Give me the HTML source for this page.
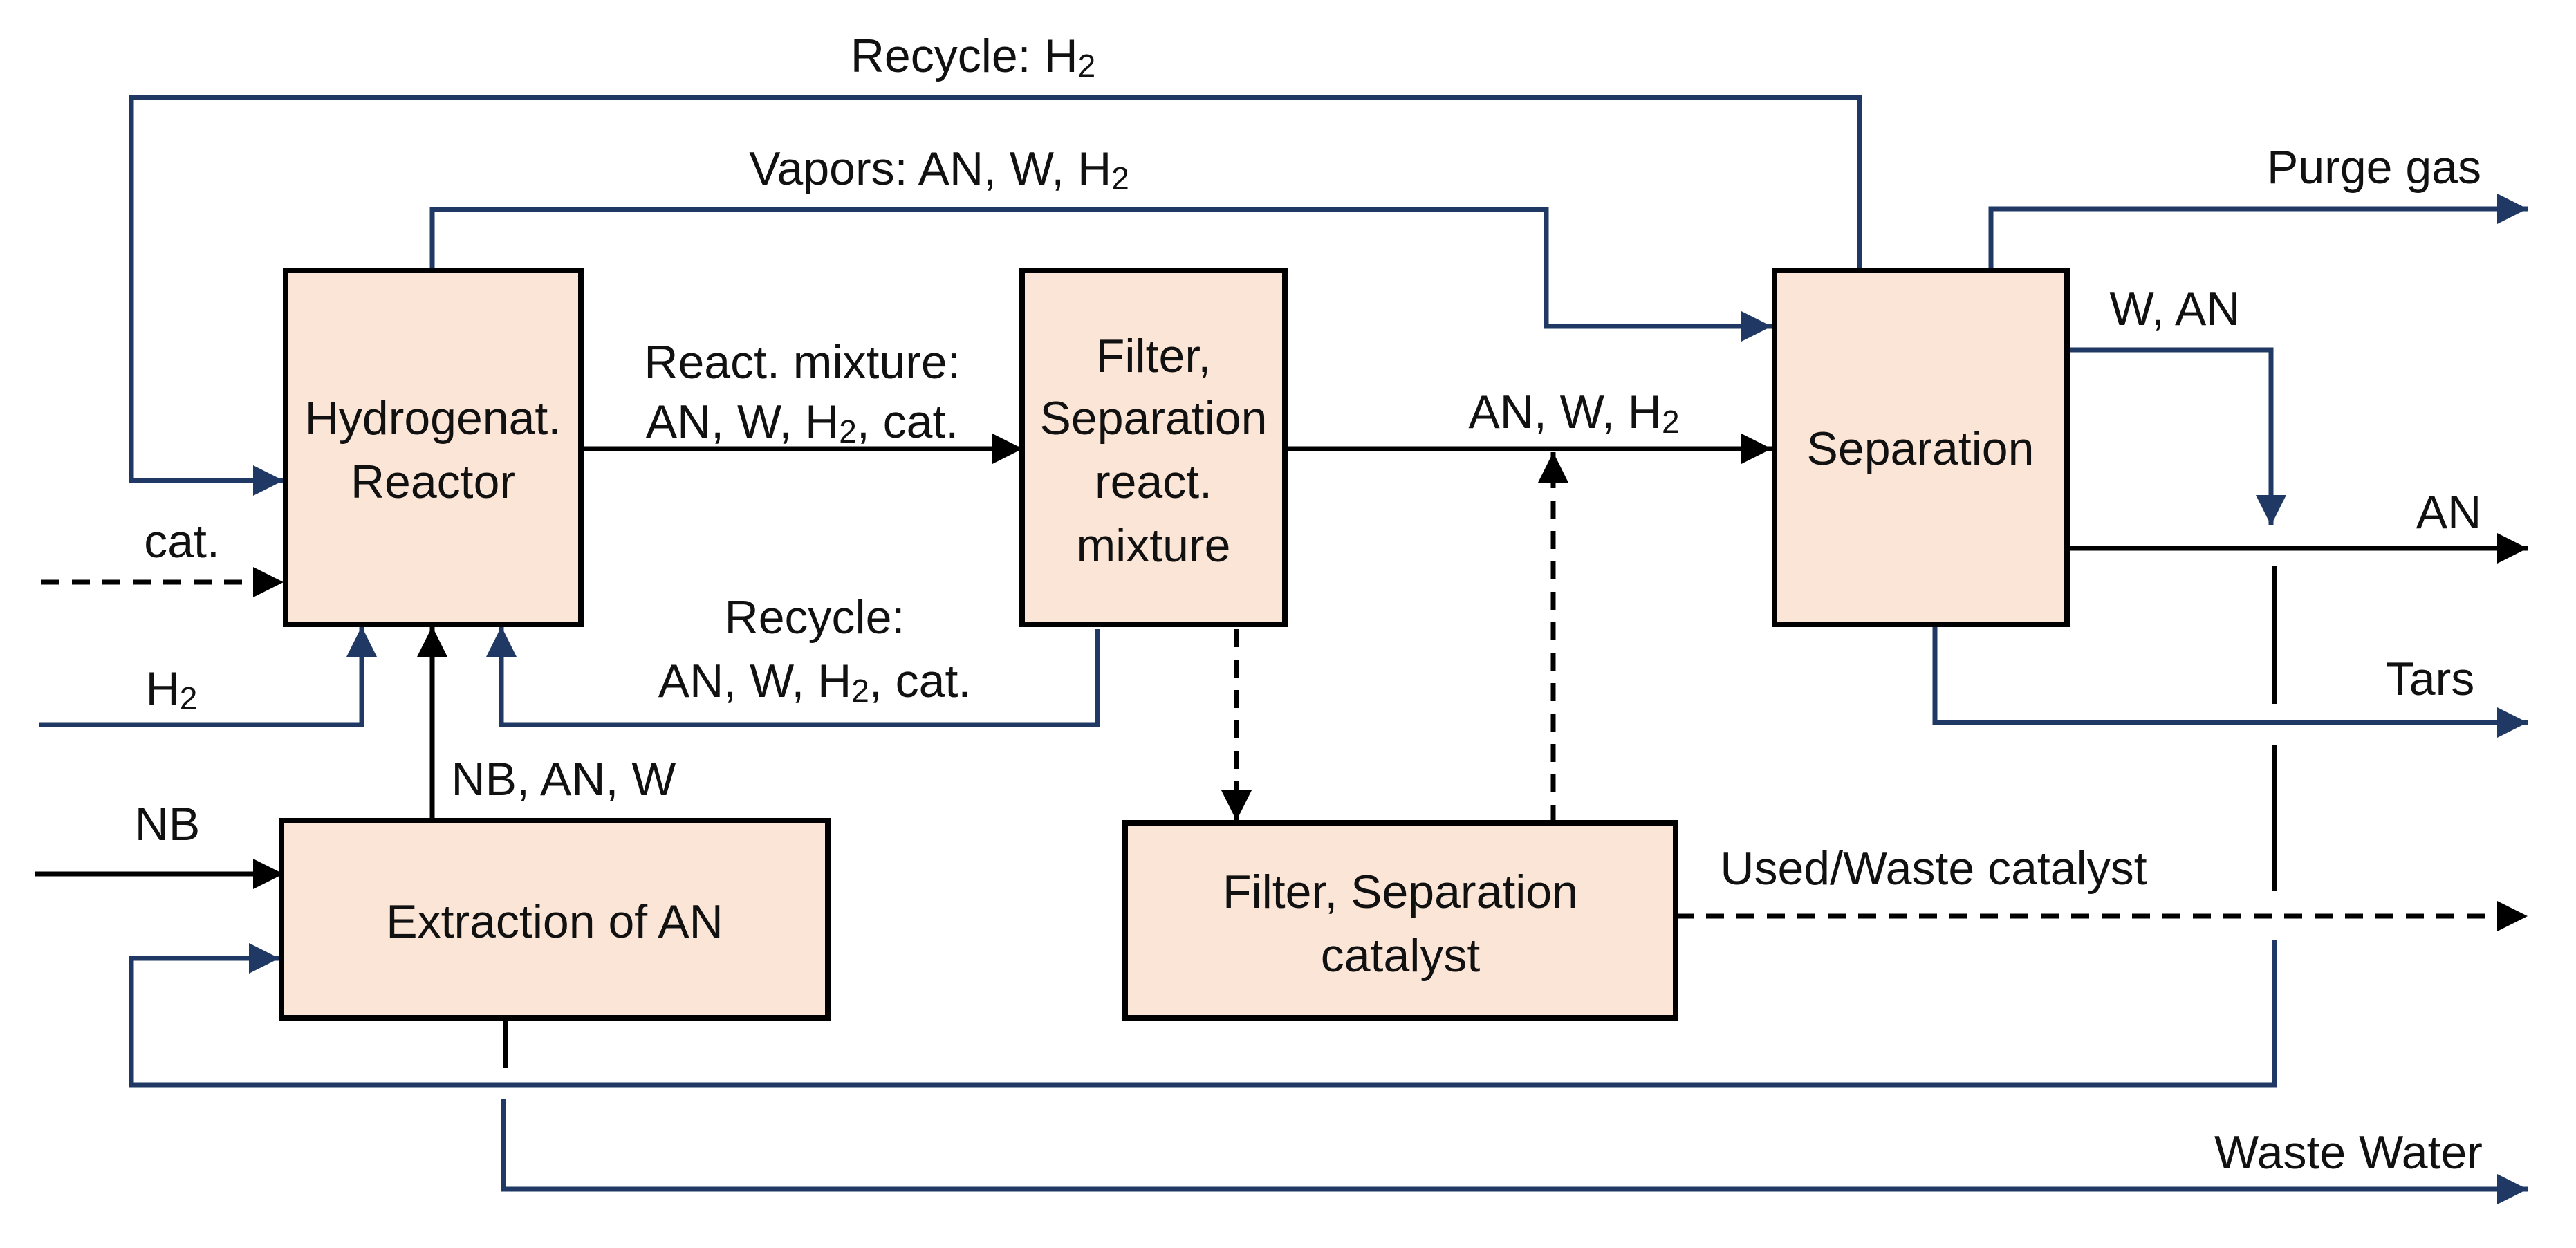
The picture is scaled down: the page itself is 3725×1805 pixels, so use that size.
<!DOCTYPE html>
<html><head><meta charset="utf-8"><style>
html,body{margin:0;padding:0;background:#fff;}
svg{display:block;}
text{font-family:"Liberation Sans",sans-serif;font-size:68px;fill:#111;}
</style></head><body>
<svg width="3725" height="1805" viewBox="0 0 3725 1805" xmlns="http://www.w3.org/2000/svg">
<defs>
<marker id="ab" markerUnits="userSpaceOnUse" markerWidth="48" markerHeight="48" refX="44" refY="22" orient="auto"><path d="M0,0 L44,22 L0,44 Z" fill="#000"/></marker>
<marker id="an" markerUnits="userSpaceOnUse" markerWidth="48" markerHeight="48" refX="44" refY="22" orient="auto"><path d="M0,0 L44,22 L0,44 Z" fill="#1f3864"/></marker>
</defs>
<g fill="none" stroke-width="7">
<g stroke="#1f3864">
<polyline points="2689,391 2689,141 190,141 190,695 410,695" marker-end="url(#an)"/>
<polyline points="625,391 625,303 2236,303 2236,472 2562,472" marker-end="url(#an)"/>
<polyline points="2879,391 2879,302 3655,302" marker-end="url(#an)"/>
<polyline points="2990,506 3284,506 3284,760" marker-end="url(#an)"/>
<polyline points="2798,903 2798,1045 3655,1045" marker-end="url(#an)"/>
<polyline points="57,1048 523,1048 523,906" marker-end="url(#an)"/>
<polyline points="1587,910 1587,1048 725,1048 725,906" marker-end="url(#an)"/>
<polyline points="3289,1359 3289,1569 190,1569 190,1386 404,1386" marker-end="url(#an)"/>
<polyline points="728,1590 728,1720 3655,1720" marker-end="url(#an)"/>
</g>
<g stroke="#000">
<line x1="840" y1="649" x2="1479" y2="649" marker-end="url(#ab)"/>
<line x1="1858" y1="649" x2="2562" y2="649" marker-end="url(#ab)"/>
<line x1="2990" y1="793" x2="3655" y2="793" marker-end="url(#ab)"/>
<line x1="625" y1="1187" x2="625" y2="906" marker-end="url(#ab)"/>
<line x1="51" y1="1264" x2="410" y2="1264" marker-end="url(#ab)"/>
<line x1="731" y1="1472" x2="731" y2="1544"/>
<line x1="3289" y1="818" x2="3289" y2="1018"/>
<line x1="3289" y1="1077" x2="3289" y2="1288"/>
</g>
<g stroke="#000" stroke-dasharray="26,18">
<line x1="60" y1="842" x2="410" y2="842" marker-end="url(#ab)"/>
<line x1="1788" y1="910" x2="1788" y2="1187" marker-end="url(#ab)"/>
<line x1="2246" y1="1190" x2="2246" y2="654" marker-end="url(#ab)"/>
<line x1="2423" y1="1325" x2="3655" y2="1325" marker-end="url(#ab)"/>
</g>
</g>
<g fill="#fbe5d6" stroke="#000" stroke-width="8">
<rect x="413" y="391" width="427" height="512"/>
<rect x="1478" y="391" width="380" height="512"/>
<rect x="2566" y="391" width="423" height="512"/>
<rect x="407" y="1187" width="790" height="285"/>
<rect x="1627" y="1190" width="796" height="282"/>
</g>
<g text-anchor="middle" dominant-baseline="central">
<text x="626" y="605">Hydrogenat.</text>
<text x="626" y="697">Reactor</text>
<text x="1668" y="515">Filter,</text>
<text x="1668" y="605">Separation</text>
<text x="1668" y="697">react.</text>
<text x="1668" y="789">mixture</text>
<text x="2777" y="649">Separation</text>
<text x="802" y="1333">Extraction of AN</text>
<text x="2025" y="1290">Filter, Separation</text>
<text x="2025" y="1382">catalyst</text>
<text x="1407" y="81">Recycle: H<tspan font-size="46" dy="14">2</tspan></text>
<text x="1358" y="244">Vapors: AN, W, H<tspan font-size="46" dy="14">2</tspan></text>
<text x="1160" y="524">React. mixture:</text>
<text x="1160" y="610">AN, W, H<tspan font-size="46" dy="14">2</tspan><tspan dy="-14">, cat.</tspan></text>
<text x="1178" y="893">Recycle:</text>
<text x="1178" y="985">AN, W, H<tspan font-size="46" dy="14">2</tspan><tspan dy="-14">, cat.</tspan></text>
<text x="2276" y="596">AN, W, H<tspan font-size="46" dy="14">2</tspan></text>
<text x="263" y="783">cat.</text>
<text x="248" y="996">H<tspan font-size="46" dy="14">2</tspan></text>
<text x="242" y="1192">NB</text>
<text x="815" y="1127">NB, AN, W</text>
<text x="3433" y="242">Purge gas</text>
<text x="3145" y="447">W, AN</text>
<text x="3541" y="741">AN</text>
<text x="3514" y="982">Tars</text>
<text x="2796" y="1256">Used/Waste catalyst</text>
<text x="3396" y="1667">Waste Water</text>
</g>
</svg>
</body></html>
